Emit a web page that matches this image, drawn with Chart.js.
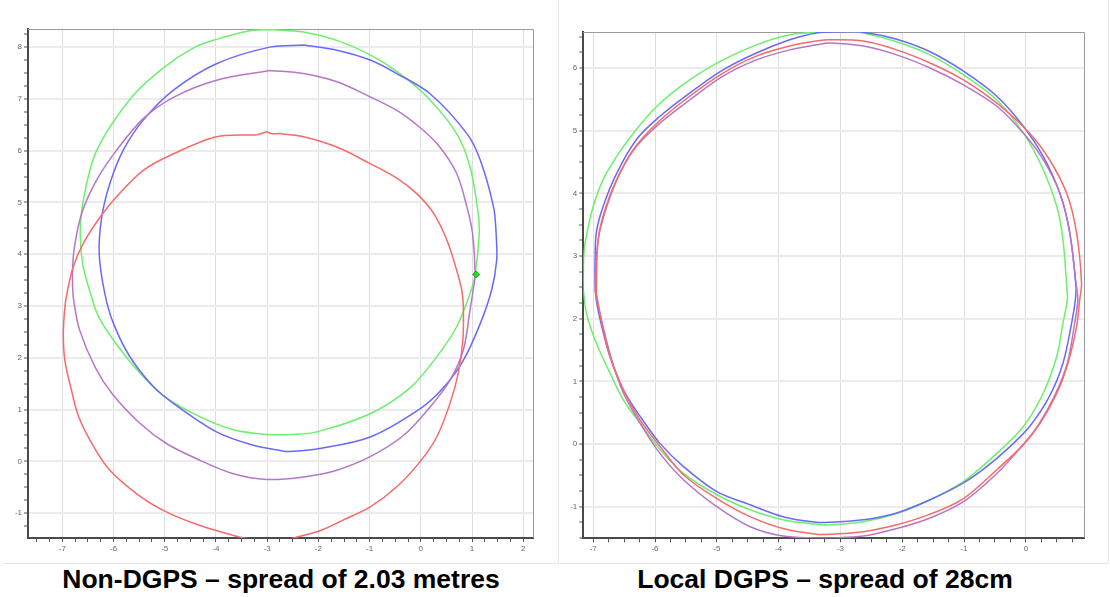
<!DOCTYPE html>
<html><head><meta charset="utf-8">
<script src="https://cdn.jsdelivr.net/npm/chart.js@4.4.1/dist/chart.umd.min.js"></script>
<style>
html,body{margin:0;padding:0;background:#fff;width:1110px;height:597px;overflow:hidden;position:relative;font-family:"Liberation Sans",Arial,sans-serif}
canvas{position:absolute;top:0}
#cL{left:0}
#cR{left:560px}
.title{position:absolute;top:564px;height:30px;line-height:30px;font-weight:bold;font-size:26.5px;color:#000;white-space:nowrap;text-align:center;width:540px}
.frame{position:absolute;background:#e6e6e6}
</style></head><body>
<div class="frame" style="left:558px;top:0;width:1px;height:563px"></div>
<div class="frame" style="left:3px;top:563px;width:1105px;height:1px"></div>
<div class="frame" style="left:1108px;top:0;width:1px;height:563px"></div>
<canvas id="cL" width="545" height="560" style="width:545px;height:560px"></canvas>
<canvas id="cR" width="540" height="560" style="width:540px;height:560px"></canvas>
<div class="title" id="tL" style="left:11px"></div>
<div class="title" id="tR" style="left:555px"></div>
<script>
// ---------- Titles ----------
const titleLeft = 'Non-DGPS – spread of 2.03 metres';
const titleRight = 'Local DGPS – spread of 28cm';
document.getElementById('tL').textContent = titleLeft;
document.getElementById('tR').textContent = titleRight;

// ---------- Tick labels ----------
const xTicksLeft = [-7, -6, -5, -4, -3, -2, -1, 0, 1, 2];
const yTicksLeft = [-1, 0, 1, 2, 3, 4, 5, 6, 7, 8];
const xTicksRight = [-7, -6, -5, -4, -3, -2, -1, 0];
const yTicksRight = [-1, 0, 1, 2, 3, 4, 5, 6];

// ---------- Series colours ----------
const seriesColors = {
  green: 'rgb(110,238,110)',
  blue: 'rgb(105,105,248)',
  purple: 'rgb(182,118,200)',
  red: 'rgb(248,105,105)'
};

// ---------- Left panel (Non-DGPS) traces, [x, y] in metres ----------
const leftGreen = [[-2.94,8.34],[-3.36,8.31],[-3.99,8.15],[-4.41,8.0],[-5.0,7.62],[-5.64,7.04],[-6.33,6.0],[-6.59,5.04],[-6.65,4.4],[-6.6,3.8],[-6.43,3.18],[-6.29,2.79],[-6.0,2.34],[-5.48,1.70],[-4.99,1.24],[-4.31,0.86],[-3.66,0.61],[-3.01,0.52],[-2.5,0.52],[-2.03,0.57],[-0.99,0.92],[-0.21,1.42],[0.31,2.02],[0.70,2.60],[0.96,3.24],[1.06,3.61],[1.14,4.40],[1.12,4.79],[0.96,5.69],[0.70,6.33],[0.12,7.04],[-0.47,7.53],[-0.99,7.85],[-1.64,8.13],[-2.29,8.29],[-2.94,8.34]];
const leftBlue = [[-2.29,8.04],[-2.95,8.0],[-3.99,7.68],[-4.83,7.17],[-5.42,6.59],[-5.81,6.01],[-6.07,5.37],[-6.23,4.72],[-6.28,4.01],[-6.17,3.24],[-6.0,2.66],[-5.68,2.02],[-5.22,1.44],[-4.83,1.12],[-3.99,0.57],[-3.27,0.31],[-2.75,0.21],[-2.56,0.19],[-1.97,0.25],[-0.99,0.47],[-0.01,1.02],[0.43,1.41],[0.83,1.95],[1.16,2.66],[1.38,3.30],[1.48,3.88],[1.47,4.40],[1.42,4.91],[1.16,5.82],[0.90,6.33],[0.18,7.10],[-0.47,7.49],[-0.99,7.75],[-1.64,7.94],[-2.29,8.04]];
const leftPurple = [[-2.94,7.55],[-3.99,7.36],[-4.83,7.03],[-5.42,6.62],[-5.94,6.01],[-6.33,5.43],[-6.62,4.79],[-6.78,4.01],[-6.80,3.37],[-6.77,3.05],[-6.66,2.53],[-6.36,1.82],[-6.03,1.31],[-5.48,0.73],[-4.96,0.34],[-4.31,0.02],[-3.66,-0.24],[-3.01,-0.35],[-2.29,-0.30],[-1.64,-0.17],[-0.99,0.09],[-0.34,0.50],[0.18,1.05],[0.57,1.57],[0.83,2.15],[0.96,2.92],[1.02,3.30],[1.06,3.61],[1.01,4.40],[0.90,4.91],[0.70,5.56],[0.33,6.12],[-0.08,6.50],[-0.47,6.78],[-0.99,7.04],[-1.64,7.33],[-2.29,7.49],[-2.94,7.55]];
const leftRed = [[-3.0,6.37],[-3.2,6.31],[-3.99,6.27],[-4.83,5.94],[-5.42,5.62],[-5.94,5.11],[-6.26,4.72],[-6.59,4.21],[-6.79,3.75],[-6.91,3.24],[-6.95,2.98],[-6.98,2.47],[-6.95,1.95],[-6.82,1.37],[-6.68,0.86],[-6.42,0.34],[-6.09,-0.15],[-5.50,-0.66],[-4.96,-0.98],[-4.31,-1.24],[-3.66,-1.43],[-3.34,-1.50],[-3.0,-1.55],[-2.75,-1.53],[-2.49,-1.48],[-1.97,-1.34],[-1.51,-1.13],[-0.99,-0.88],[-0.47,-0.49],[-0.01,0.0],[0.31,0.47],[0.57,1.12],[0.73,1.70],[0.82,2.34],[0.83,2.98],[0.80,3.30],[0.70,3.69],[0.51,4.27],[0.25,4.79],[-0.08,5.17],[-0.47,5.47],[-0.99,5.75],[-1.64,6.07],[-2.29,6.27],[-2.75,6.33],[-2.93,6.33],[-3.0,6.37]];
const leftMarker = [[1.08,3.61]];

// ---------- Right panel (Local DGPS) traces ----------
const rightGreen = [[-7.16,2.46],[-7.15,3.05],[-7.10,3.37],[-7.0,3.79],[-6.84,4.22],[-6.62,4.59],[-6.35,4.96],[-5.97,5.39],[-5.44,5.81],[-4.90,6.13],[-4.36,6.37],[-3.82,6.53],[-3.39,6.57],[-3.0,6.6],[-2.63,6.56],[-2.09,6.42],[-1.55,6.21],[-1.01,5.89],[-0.47,5.49],[-0.04,4.96],[0.28,4.38],[0.50,3.79],[0.60,3.26],[0.66,2.51],[0.67,2.30],[0.60,1.93],[0.50,1.40],[0.28,0.81],[-0.04,0.28],[-0.47,-0.15],[-1.01,-0.60],[-1.55,-0.89],[-2.09,-1.11],[-2.63,-1.24],[-3.17,-1.29],[-3.39,-1.28],[-3.93,-1.21],[-4.46,-1.05],[-5.0,-0.81],[-5.54,-0.47],[-5.92,-0.09],[-6.24,0.33],[-6.51,0.70],[-6.78,1.24],[-6.97,1.66],[-7.11,2.09],[-7.16,2.46]];
const rightBlue = [[-6.97,2.6],[-6.97,2.89],[-6.95,3.37],[-6.84,3.79],[-6.62,4.32],[-6.30,4.86],[-5.92,5.23],[-5.44,5.60],[-4.90,5.97],[-4.36,6.24],[-3.82,6.45],[-3.39,6.56],[-3.0,6.58],[-2.63,6.57],[-2.09,6.46],[-1.55,6.26],[-1.01,5.95],[-0.47,5.55],[-0.04,5.07],[0.28,4.59],[0.55,4.0],[0.71,3.37],[0.81,2.51],[0.80,2.30],[0.74,1.93],[0.60,1.29],[0.38,0.76],[0.06,0.28],[-0.31,-0.09],[-0.66,-0.38],[-1.01,-0.62],[-1.55,-0.89],[-2.09,-1.10],[-2.63,-1.21],[-3.17,-1.25],[-3.39,-1.25],[-3.93,-1.16],[-4.46,-0.97],[-5.0,-0.76],[-5.54,-0.36],[-5.92,0.01],[-6.24,0.44],[-6.51,0.86],[-6.73,1.40],[-6.86,1.87],[-6.95,2.30],[-6.97,2.6]];
const rightPurple = [[-6.95,2.35],[-6.97,2.46],[-6.92,3.26],[-6.78,3.79],[-6.57,4.32],[-6.30,4.75],[-5.92,5.12],[-5.44,5.49],[-4.90,5.87],[-4.36,6.13],[-3.82,6.29],[-3.39,6.37],[-3.17,6.40],[-2.63,6.35],[-2.09,6.21],[-1.55,6.0],[-1.01,5.73],[-0.47,5.39],[-0.04,4.96],[0.28,4.54],[0.55,4.0],[0.71,3.37],[0.81,2.57],[0.84,2.30],[0.78,1.87],[0.67,1.29],[0.47,0.78],[0.20,0.30],[-0.07,-0.04],[-0.47,-0.47],[-1.01,-0.92],[-1.55,-1.18],[-2.09,-1.35],[-2.63,-1.47],[-3.17,-1.50],[-3.39,-1.50],[-3.93,-1.47],[-4.46,-1.32],[-5.0,-1.0],[-5.54,-0.57],[-5.92,-0.15],[-6.24,0.33],[-6.51,0.81],[-6.70,1.34],[-6.84,1.87],[-6.95,2.35]];
const rightRed = [[-6.95,2.41],[-6.95,2.46],[-6.92,3.26],[-6.81,3.74],[-6.62,4.22],[-6.35,4.70],[-5.97,5.12],[-5.44,5.55],[-4.90,5.92],[-4.36,6.19],[-3.82,6.35],[-3.39,6.43],[-3.17,6.45],[-2.63,6.43],[-2.09,6.29],[-1.55,6.08],[-1.01,5.81],[-0.47,5.44],[0.06,4.96],[0.38,4.54],[0.66,4.0],[0.82,3.37],[0.90,2.57],[0.87,2.30],[0.82,1.87],[0.68,1.29],[0.50,0.81],[0.23,0.33],[-0.04,-0.01],[-0.47,-0.41],[-1.01,-0.87],[-1.55,-1.12],[-2.09,-1.29],[-2.63,-1.40],[-3.17,-1.44],[-3.39,-1.44],[-3.93,-1.35],[-4.46,-1.16],[-5.0,-0.87],[-5.54,-0.49],[-5.92,-0.04],[-6.24,0.38],[-6.51,0.86],[-6.73,1.40],[-6.86,1.93],[-6.95,2.41]];

// ---------- Helpers ----------
function quarterTicks(min, max) {
  const out = [];
  for (let v = Math.ceil(min * 4) / 4; v <= max + 1e-9; v += 0.25) out.push({ value: Math.round(v * 100) / 100 });
  return out;
}
function axis(min, max, majors, horizontal, fitSize) {
  return {
    type: 'linear', min: min, max: max,
    afterBuildTicks: s => { s.ticks = quarterTicks(min, max); },
    afterFit: s => { if (horizontal) s.height = fitSize; else s.width = fitSize; },
    ticks: {
      autoSkip: false, maxRotation: 0, minRotation: 0, padding: 2,
      color: '#666', font: { family: 'Liberation Sans', size: 8 },
      callback: v => majors.includes(v) ? String(v) : ''
    },
    grid: {
      color: c => (c.tick && majors.includes(c.tick.value)) ? (horizontal ? '#dedede' : '#ebebeb') : 'rgba(0,0,0,0)',
      lineWidth: horizontal ? 1 : 2,
      tickColor: '#555', tickLength: 4, tickWidth: 1
    },
    border: { display: true, color: '#4a4a4a', width: 2 }
  };
}
function lineSet(points, color) {
  return {
    data: points.map(p => ({ x: p[0], y: p[1] })),
    showLine: true, borderColor: color, backgroundColor: color,
    borderWidth: 1.5, pointRadius: 0, pointHoverRadius: 0, tension: 0.33, fill: false
  };
}
const framePlugin = {
  id: 'frameTR',
  beforeDatasetsDraw(chart) {
    const a = chart.chartArea, ctx = chart.ctx;
    ctx.save();
    ctx.strokeStyle = '#9a9a9a'; ctx.lineWidth = 1;
    ctx.beginPath();
    ctx.moveTo(Math.round(a.left), Math.round(a.top) + 0.5);
    ctx.lineTo(Math.round(a.right) + 0.5, Math.round(a.top) + 0.5);
    ctx.lineTo(Math.round(a.right) + 0.5, Math.round(a.bottom));
    ctx.stroke();
    ctx.restore();
  }
};
function makeChart(id, datasets, xr, yr, xMaj, yMaj, yW, xH, pad) {
  return new Chart(document.getElementById(id), {
    type: 'scatter',
    data: { datasets: datasets },
    options: {
      responsive: false, animation: false, devicePixelRatio: 1,
      layout: { padding: pad },
      elements: { line: { capBezierPoints: false } },
      plugins: { legend: { display: false }, tooltip: { enabled: false } },
      scales: {
        x: axis(xr[0], xr[1], xMaj, true, xH),
        y: axis(yr[0], yr[1], yMaj, false, yW)
      }
    },
    plugins: [framePlugin]
  });
}

makeChart('cL', [
  { data: leftMarker.map(p => ({ x: p[0], y: p[1] })), showLine: false, pointStyle: 'rectRot', pointRadius: 3.5,
    backgroundColor: '#2fd82f', borderColor: '#149a14', borderWidth: 1 },
  lineSet(leftRed, seriesColors.red),
  lineSet(leftPurple, seriesColors.purple),
  lineSet(leftBlue, seriesColors.blue),
  lineSet(leftGreen, seriesColors.green)
], [-7.67, 2.19], [-1.48, 8.35], xTicksLeft, yTicksLeft, 28, 22, { top: 29, right: 12, left: 0, bottom: 0 });

makeChart('cR', [
  lineSet(rightRed, seriesColors.red),
  lineSet(rightPurple, seriesColors.purple),
  lineSet(rightBlue, seriesColors.blue),
  lineSet(rightGreen, seriesColors.green)
], [-7.16, 0.94], [-1.505, 6.575], xTicksRight, yTicksRight, 23.3, 21.7, { top: 32, right: 16, left: 0, bottom: 0 });
</script>
</body></html>
